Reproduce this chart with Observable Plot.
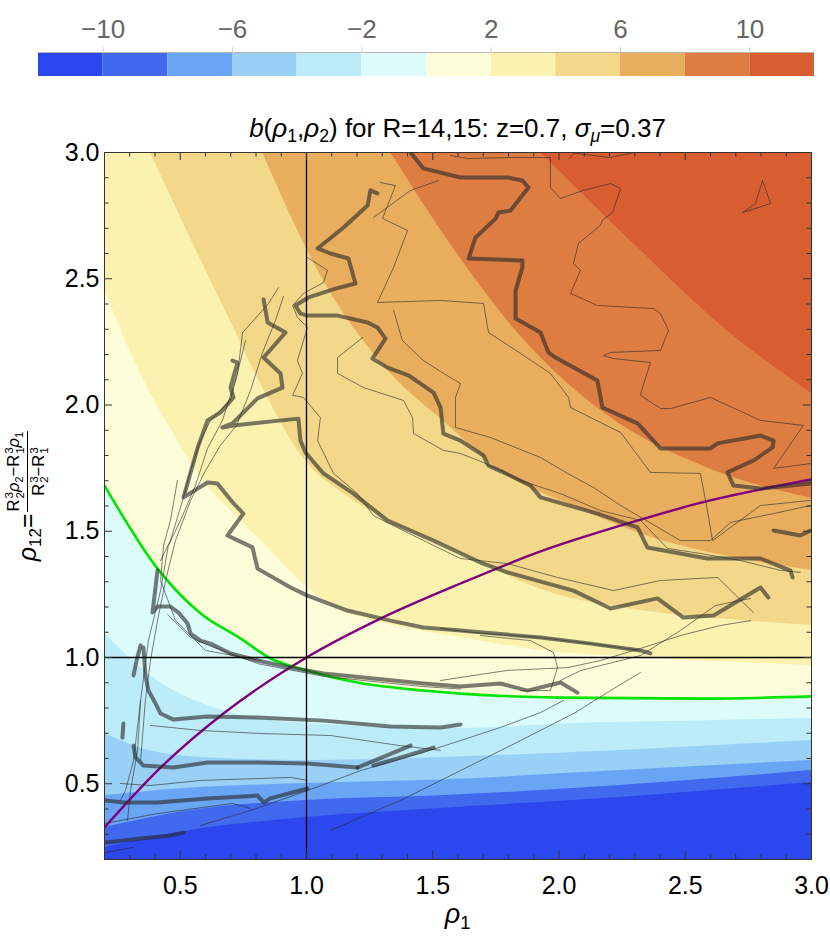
<!DOCTYPE html>
<html><head><meta charset="utf-8">
<script src="https://cdn.jsdelivr.net/npm/d3@7"></script>
<script src="https://cdn.jsdelivr.net/npm/@observablehq/plot@0.6"></script>
<style>
body{margin:0;background:#fff;font-family:"Liberation Sans",Arial,sans-serif;}
#wrap{position:relative;width:830px;height:939px;overflow:hidden}
#main,#cbar{position:absolute;left:0;top:0}
#title{position:absolute;left:104px;width:707px;top:115px;text-align:center;font-size:26px;line-height:26px;color:#000;white-space:nowrap}
#xlab{position:absolute;left:104px;width:707px;top:901px;text-align:center;font-size:27px;line-height:27px}
sub{font-size:0.68em;vertical-align:-0.3em;line-height:0}
#ylab{position:absolute;left:-73px;top:466px;width:200px;height:60px;transform:rotate(-90deg);display:flex;align-items:center;justify-content:center;white-space:nowrap}
#ylab .lhs{font-size:25px}
#ylab .frac{display:inline-flex;flex-direction:column;align-items:center;font-size:16.5px;margin-left:1px}
#ylab .num{border-bottom:1.3px solid #000;padding:0 1px 1px 1px}
#ylab .den{padding-top:1px}
.ss{display:inline-flex;flex-direction:column;font-size:0.7em;line-height:0.95;vertical-align:middle;margin-left:1px}
</style></head>
<body>
<div id="wrap">
<div id="main"></div>
<div id="cbar"></div>
<div id="title"><i>b</i>(<i>ρ</i><sub>1</sub>,<i>ρ</i><sub>2</sub>) for R=14,15: z=0.7, <i>σ</i><sub><i>μ</i></sub>=0.37</div>
<div id="xlab"><i>ρ</i><sub>1</sub></div>
<div id="ylab"><span class="lhs"><i>ρ</i><sub>12</sub>=</span><span class="frac"><span class="num">R<span class="ss"><span>3</span><span>2</span></span><i>ρ</i><sub>2</sub>−R<span class="ss"><span>3</span><span>1</span></span><i>ρ</i><sub>1</sub></span><span class="den">R<span class="ss"><span>3</span><span>2</span></span>−R<span class="ss"><span>3</span><span>1</span></span></span></span></div>
</div>
<script>
// ---------- scales / ticks ----------
const xDomain = [0.2, 3.0];
const yDomain = [0.2, 3.0];
const xTicks = [0.5, 1.0, 1.5, 2.0, 2.5, 3.0];
const yTicks = [0.5, 1.0, 1.5, 2.0, 2.5, 3.0];
const minorTicks = [0.2,0.3,0.4,0.6,0.7,0.8,0.9,1.1,1.2,1.3,1.4,1.6,1.7,1.8,1.9,2.1,2.2,2.3,2.4,2.6,2.7,2.8,2.9];
const refLines = [1.0];

// ---------- colour bands ----------
const bandColors = ["#2B48EE","#4169EE","#6AA4F4","#98D0F6","#BDECF9","#DCFBFB","#FDFDD9","#FBF2B0","#F2D888","#E8AE5E","#DE7D42","#D85E31"];
const bandEdges = [-12,-10,-8,-6,-4,-2,0,2,4,6,8,10,12];
const cbarTicks = [-10,-6,-2,2,6,10];

// contour-band boundaries (rho1, rho12)
const edgeM10 = [[0.2,0.248],[0.54,0.315],[1.0,0.366],[1.53,0.402],[2.24,0.446],[3.0,0.505]];
const edgeM8  = [[0.2,0.327],[0.54,0.394],[1.0,0.434],[1.53,0.452],[2.24,0.493],[3.0,0.552]];
const edgeM6  = [[0.2,0.453],[0.5,0.48],[1.0,0.501],[1.53,0.515],[2.24,0.552],[3.0,0.592]];
const edgeM4  = [[0.2,0.699],[0.41,0.624],[0.67,0.60],[1.0,0.592],[1.53,0.604],[2.24,0.632],[3.0,0.671]];
const edgeM2  = [[0.2,1.095],[0.41,0.909],[0.67,0.79],[1.0,0.739],[1.61,0.719],[2.06,0.739],[2.59,0.75],[3.0,0.758]];
const edge2   = [[0.2,2.453],[0.343,2.125],[0.473,1.887],[0.58,1.713],[0.711,1.570],[0.846,1.436],[1.004,1.277],[1.135,1.186],[1.265,1.146],[1.61,1.079],[1.927,1.028],[2.323,1.0],[3.0,0.968]];
const edge4   = [[0.382,3.0],[0.55,2.64],[0.70,2.33],[0.81,2.10],[1.004,1.768],[1.147,1.649],[1.321,1.542],[1.503,1.463],[1.689,1.376],[1.927,1.27],[2.323,1.186],[2.719,1.147],[3.0,1.127]];
const edge6   = [[0.826,3.0],[1.067,2.493],[1.333,2.125],[1.55,1.93],[1.796,1.72],[2.057,1.60],[2.323,1.49],[2.719,1.39],[3.0,1.345]];
const edge8   = [[1.333,3.0],[1.61,2.58],[1.85,2.27],[2.19,1.96],[2.59,1.75],[3.0,1.63]];
const edge10  = [[1.927,3.0],[2.323,2.612],[2.651,2.307],[3.0,2.046]];

// ---------- curves ----------
const greenCurve  = [[0.2,1.681],[0.41,1.352],[0.581,1.174],[0.739,1.075],[0.858,0.996],[1.004,0.948],[1.202,0.901],[1.463,0.869],[1.61,0.857],[2.006,0.841],[2.56,0.837],[3.0,0.846]];
const purpleCurve = [[0.2,0.327],[0.41,0.552],[0.671,0.778],[1.0,1.0],[1.293,1.154],[1.61,1.293],[1.927,1.42],[2.27,1.53],[2.59,1.62],[3.0,1.705]];

// ---------- noisy measured contours (thick) ----------
const lineA = [[1.412,3.0],[1.463,2.937],[1.61,2.901],[1.796,2.901],[1.855,2.889],[1.879,2.861],[1.808,2.77],[1.76,2.762],[1.749,2.738],[1.669,2.663],[1.642,2.58],[1.855,2.572],[1.855,2.545],[1.828,2.453],[1.828,2.343],[1.927,2.287],[1.958,2.208],[1.986,2.188],[2.152,2.097],[2.172,1.99],[2.311,1.927],[2.402,1.828],[2.6,1.828],[2.628,1.848],[2.798,1.879],[2.85,1.859],[2.846,1.832],[2.77,1.78],[2.667,1.733],[2.691,1.681],[2.798,1.669],[2.996,1.689]];
const lineB = [[1.281,2.838],[1.253,2.85],[1.242,2.79],[1.147,2.703],[1.044,2.62],[1.095,2.6],[1.166,2.58],[1.194,2.481],[1.115,2.461],[1.008,2.426],[0.956,2.394],[0.976,2.362],[1.004,2.354],[1.123,2.354],[1.242,2.327],[1.281,2.307],[1.313,2.263],[1.261,2.184],[1.321,2.148],[1.404,2.117],[1.503,2.049],[1.531,1.99],[1.542,1.887],[1.61,1.859],[1.701,1.8],[1.721,1.76],[1.78,1.733],[1.887,1.681],[1.927,1.634],[2.152,1.57],[2.311,1.515],[2.35,1.436],[2.588,1.392],[2.798,1.392],[2.917,1.344],[2.925,1.317]];
const lineC = [[0.83,2.418],[0.846,2.327],[0.917,2.287],[0.83,2.188],[0.897,2.125],[0.905,2.069],[0.806,2.026],[0.707,1.927],[0.667,1.911],[0.711,1.919],[0.968,1.946],[0.976,1.859],[0.996,1.812],[1.067,1.729],[1.186,1.649],[1.321,1.542],[1.503,1.463],[1.689,1.376],[1.796,1.337],[2.057,1.265],[2.204,1.194],[2.39,1.234],[2.493,1.158],[2.612,1.166],[2.798,1.277],[2.829,1.238]];
const lineD = [[0.707,2.176],[0.727,2.168],[0.699,2.069],[0.711,2.03],[0.659,1.97],[0.608,1.939],[0.568,1.828],[0.513,1.634],[0.608,1.693],[0.647,1.689],[0.711,1.61],[0.75,1.57],[0.687,1.483],[0.786,1.436],[0.806,1.352],[0.937,1.277],[1.004,1.245],[1.162,1.186],[1.333,1.146],[1.463,1.119],[1.61,1.107],[1.927,1.079],[2.125,1.055],[2.323,1.028],[2.362,1.016]];
const lineE = [[0.41,1.345],[0.402,1.277],[0.39,1.178],[0.41,1.202],[0.461,1.202],[0.493,1.178],[0.529,1.135],[0.541,1.095],[0.58,1.067],[0.62,1.055],[0.699,1.016],[0.806,0.988],[0.937,0.96],[1.067,0.937],[1.265,0.917],[1.463,0.897],[1.61,0.885],[1.768,0.897],[1.875,0.869],[2.006,0.901],[2.073,0.861]];
const lineF = [[0.354,1.04],[0.362,0.929],[0.374,0.869],[0.402,0.818],[0.422,0.778],[0.473,0.754],[0.608,0.766],[0.806,0.762],[1.067,0.75],[1.333,0.727],[1.531,0.723],[1.61,0.735]];
const lineG = [[0.315,0.651],[0.323,0.604],[0.354,0.572],[0.473,0.564],[0.608,0.584],[0.806,0.584],[1.004,0.58],[1.202,0.564]];
const lineG2 = [[1.202,0.564],[1.412,0.651]];
const lineG3 = [[1.265,0.572],[1.503,0.643]];
const lineH = [[0.204,0.434],[0.275,0.426],[0.41,0.426],[0.608,0.442],[0.806,0.453],[0.83,0.426],[0.857,0.442],[1.004,0.481]];
const lineI = [[0.204,0.267],[0.343,0.283],[0.461,0.295],[0.513,0.307]];
const lineJ = [[0.275,0.739],[0.271,0.683]];
const lineJ2 = [[0.343,1.048],[0.327,0.988],[0.315,0.929]];
const lineK = [[2.85,1.503],[2.956,1.483],[2.996,1.503]];

// ---------- noisy measured contours (thin) ----------
const thinT1 = [[1.57,2.988],[1.638,2.976],[1.796,2.98],[1.966,2.98],[1.966,2.861],[2.006,2.818],[2.097,2.85],[2.204,2.877],[2.244,2.857],[2.212,2.762],[2.172,2.731],[2.164,2.711],[2.077,2.64],[2.057,2.56],[2.085,2.533],[2.046,2.442],[2.152,2.394],[2.374,2.382],[2.402,2.362],[2.434,2.295],[2.402,2.216],[2.204,2.208],[2.176,2.196],[2.216,2.184],[2.362,2.168],[2.331,2.069],[2.323,2.038],[2.402,1.986],[2.442,1.986],[2.6,2.03],[2.798,1.939],[2.968,1.919],[2.85,1.749],[2.996,1.768]];
const thinT1b = [[2.04,2.975],[2.06,2.998],[2.2,2.98],[2.3,3.0]];
const thinTri = [[2.806,2.889],[2.838,2.798],[2.727,2.762],[2.778,2.798],[2.806,2.889]];
const thinT2 = [[1.293,2.881],[1.352,2.869],[1.301,2.739],[1.4,2.691],[1.345,2.545],[1.281,2.406],[1.531,2.414],[1.701,2.402],[1.721,2.287],[1.848,2.204],[1.966,2.125],[2.038,2.03],[2.046,1.99],[2.244,1.891],[2.362,1.733],[2.56,1.729],[2.588,1.582],[2.608,1.463],[2.798,1.602],[2.996,1.622]];
const thinT3 = [[1.345,2.374],[1.38,2.255],[1.463,2.176],[1.543,2.125],[1.61,2.085],[1.59,2.03],[1.59,1.911],[1.729,1.871],[1.927,1.792],[2.034,1.729],[2.137,1.673],[2.244,1.602],[2.481,1.463],[2.6,1.463],[2.679,1.535],[2.85,1.57],[2.996,1.602]];
const thinT5 = [[1.266,2.743],[1.412,2.85],[1.523,2.889]];
const thinT6 = [[1.004,2.584],[1.083,2.533],[1.067,2.485],[0.988,2.442],[0.945,2.394],[0.964,2.347],[1.004,2.307],[0.988,2.255],[0.964,2.176],[0.984,2.125],[0.945,2.038],[0.988,2.03],[1.055,1.95],[1.044,1.859],[1.107,1.729],[1.202,1.649],[1.265,1.562],[1.463,1.463],[1.61,1.392],[1.796,1.372],[1.994,1.317],[2.216,1.265],[2.402,1.305],[2.628,1.317],[2.77,1.178]];
const thinT7 = [[1.222,2.267],[1.123,2.188],[1.123,2.125],[1.226,2.069],[1.384,2.018],[1.42,1.95],[1.424,1.887],[1.543,1.82],[1.61,1.808],[1.701,1.772],[1.848,1.701],[2.006,1.649],[2.164,1.582],[2.323,1.543],[2.43,1.432],[2.56,1.412],[2.719,1.384],[2.877,1.345],[2.956,1.337]];
const thinF1 = [[0.889,2.465],[0.85,2.402],[0.747,2.287],[0.727,2.125],[0.667,1.939],[0.608,1.828],[0.56,1.681],[0.501,1.543],[0.453,1.444],[0.422,1.265],[0.374,1.067],[0.343,0.83],[0.331,0.632],[0.303,0.473],[0.291,0.354]];
const thinF2 = [[0.909,2.43],[0.877,2.335],[0.826,2.208],[0.778,2.057],[0.723,1.919],[0.659,1.84],[0.6,1.74],[0.541,1.622],[0.481,1.463],[0.442,1.305],[0.41,1.146],[0.382,0.988],[0.362,0.83],[0.343,0.592]];
const thinF3 = [[0.758,2.255],[0.739,2.176],[0.699,2.018],[0.62,1.939],[0.58,1.859],[0.541,1.74],[0.513,1.634],[0.461,1.463],[0.422,1.384]];
const thinL1 = [[0.58,0.335],[0.778,0.394],[1.004,0.473],[1.214,0.552],[1.463,0.624],[1.61,0.671],[1.768,0.723],[1.927,0.782],[2.018,0.83]];
const thinL2 = [[1.095,0.315],[1.372,0.434],[1.61,0.552],[1.848,0.671],[2.065,0.782],[2.204,0.869],[2.323,0.941]];
const thinR1 = [[1.531,1.115],[1.661,1.099],[1.927,1.079],[2.125,1.055],[2.323,1.028]];
const thinR2 = [[1.531,0.909],[1.796,0.949],[2.034,0.96],[2.164,0.988],[2.323,1.036],[2.481,1.087],[2.64,1.127],[2.759,1.146]];
const thinR3 = [[2.006,0.909],[2.085,0.948],[2.164,0.968],[2.323,1.008],[2.481,1.107],[2.62,1.206],[2.759,1.234]];
const thinR4 = [[1.848,0.869],[1.966,0.869],[1.994,0.96],[1.978,1.02],[1.887,1.067],[1.689,1.087]];
const thinB1 = [[0.204,0.343],[0.41,0.382],[0.707,0.422],[0.778,0.402]];
const thinB2 = [[0.204,0.228],[0.315,0.248]];
const thinB3 = [[0.343,0.83],[0.315,0.592],[0.283,0.473],[0.263,0.434]];
const thinB4 = [[0.263,0.501],[0.382,0.493],[0.58,0.513],[0.937,0.525],[1.004,0.513]];
const thinB5 = [[0.382,0.731],[0.58,0.711],[0.818,0.699],[1.095,0.691],[1.372,0.651],[1.531,0.632]];
const thinB6 = [[0.489,1.701],[0.461,1.543],[0.434,1.444],[0.422,1.305],[0.481,1.147],[0.6,1.028],[0.818,0.988]];
const thinE2 = [[0.45,1.17],[0.54,1.08],[0.62,1.045],[0.81,0.975],[1.07,0.925],[1.46,0.885],[1.61,0.875]];

const thickLines = [lineA,lineB,lineC,lineD,lineE,lineF,lineG,lineG2,lineG3,lineH,lineI,lineJ,lineJ2,lineK];
const thinLines = [thinT1,thinT1b,thinTri,thinT2,thinT3,thinT5,thinT6,thinT7,thinF1,thinF2,thinF3,thinL1,thinL2,thinR1,thinR2,thinR3,thinR4,thinB1,thinB2,thinB3,thinB4,thinB5,thinB6,thinE2];

const lowerBands = [[edgeM2,bandColors[4]],[edgeM4,bandColors[3]],[edgeM6,bandColors[2]],[edgeM8,bandColors[1]],[edgeM10,bandColors[0]]];
const upperBands = [[greenCurve,bandColors[6]],[edge2,bandColors[7]],[edge4,bandColors[8]],[edge6,bandColors[9]],[edge8,bandColors[10]],[edge10,bandColors[11]]];

const px = d => d[0], py = d => d[1];
const majLen = 0.032, minLen = 0.018;
const fmt = d3.format(".1f");

const main = Plot.plot({
  width: 830, height: 939,
  marginTop: 152, marginBottom: 80, marginLeft: 104, marginRight: 19,
  x: {domain: xDomain, label: null},
  y: {domain: yDomain, label: null},
  style: {fontSize: "25px", fontFamily: "'Liberation Sans', Arial, sans-serif", color: "#000", background: "transparent"},
  marks: [
    Plot.frame({fill: bandColors[5], stroke: null}),
    ...lowerBands.map(([e, c]) => Plot.area(e, {x1: px, y1: () => yDomain[0], y2: py, fill: c, curve: "monotone-x", clip: true})),
    ...upperBands.map(([e, c]) => Plot.area(e, {x1: px, y1: py, y2: () => yDomain[1], fill: c, curve: "monotone-x", clip: true})),
    Plot.line(greenCurve, {x: px, y: py, stroke: "#00E400", strokeWidth: 2.6, curve: "monotone-x", clip: true}),
    Plot.line(purpleCurve, {x: px, y: py, stroke: "#800080", strokeWidth: 2.4, curve: "monotone-x", clip: true}),
    ...thinLines.map(l => Plot.line(l, {x: px, y: py, stroke: "#2a2a2a", strokeOpacity: 0.6, strokeWidth: 1, clip: true})),
    ...thickLines.map(l => Plot.line(l, {x: px, y: py, stroke: "#2a2a2a", strokeOpacity: 0.62, strokeWidth: 4, clip: true})),
    Plot.ruleX(refLines, {x: d => d, stroke: "#000", strokeWidth: 1.3}),
    Plot.ruleY(refLines, {y: d => d, stroke: "#000", strokeWidth: 1.3}),
    // inward frame ticks
    Plot.ruleX(minorTicks, {x: d => d, y1: () => yDomain[0], y2: () => yDomain[0] + minLen, stroke: "#333"}),
    Plot.ruleX(minorTicks, {x: d => d, y1: () => yDomain[1] - minLen, y2: () => yDomain[1], stroke: "#333"}),
    Plot.ruleX(xTicks, {x: d => d, y1: () => yDomain[0], y2: () => yDomain[0] + majLen, stroke: "#333"}),
    Plot.ruleX(xTicks, {x: d => d, y1: () => yDomain[1] - majLen, y2: () => yDomain[1], stroke: "#333"}),
    Plot.ruleY(minorTicks, {y: d => d, x1: () => xDomain[0], x2: () => xDomain[0] + minLen, stroke: "#333"}),
    Plot.ruleY(minorTicks, {y: d => d, x1: () => xDomain[1] - minLen, x2: () => xDomain[1], stroke: "#333"}),
    Plot.ruleY(yTicks, {y: d => d, x1: () => xDomain[0], x2: () => xDomain[0] + majLen, stroke: "#333"}),
    Plot.ruleY(yTicks, {y: d => d, x1: () => xDomain[1] - majLen, x2: () => xDomain[1], stroke: "#333"}),
    Plot.frame({stroke: "#333", strokeWidth: 1}),
    Plot.axisX({ticks: xTicks, anchor: "bottom", tickSize: 0, tickPadding: 17, tickFormat: fmt, fontSize: 25}),
    Plot.axisY({ticks: yTicks, anchor: "left", tickSize: 0, tickPadding: 5, tickFormat: fmt, fontSize: 25})
  ]
});
document.getElementById("main").appendChild(main);

const bandIdx = d3.range(bandColors.length);
const cbar = Plot.plot({
  width: 830, height: 77,
  marginTop: 52, marginBottom: 1, marginLeft: 38, marginRight: 16,
  x: {domain: [bandEdges[0], bandEdges[bandEdges.length - 1]], label: null},
  y: {domain: [0, 1], axis: null},
  style: {fontSize: "25px", fontFamily: "'Liberation Sans', Arial, sans-serif", background: "transparent"},
  marks: [
    Plot.rect(bandIdx, {x1: i => bandEdges[i], x2: i => bandEdges[i + 1], y1: () => 0, y2: () => 1, fill: i => bandColors[i]}),
    Plot.ruleY([1], {stroke: "#b5b5b5", strokeWidth: 1.2}),
    Plot.axisX({anchor: "top", ticks: cbarTicks, tickSize: 6, tickPadding: 9, stroke: "#d0d0d0", fill: "#666", fontSize: 26,
      tickFormat: d => d < 0 ? "\u2212" + Math.abs(d) : String(d)})
  ]
});
document.getElementById("cbar").appendChild(cbar);
</script>
</body></html>
